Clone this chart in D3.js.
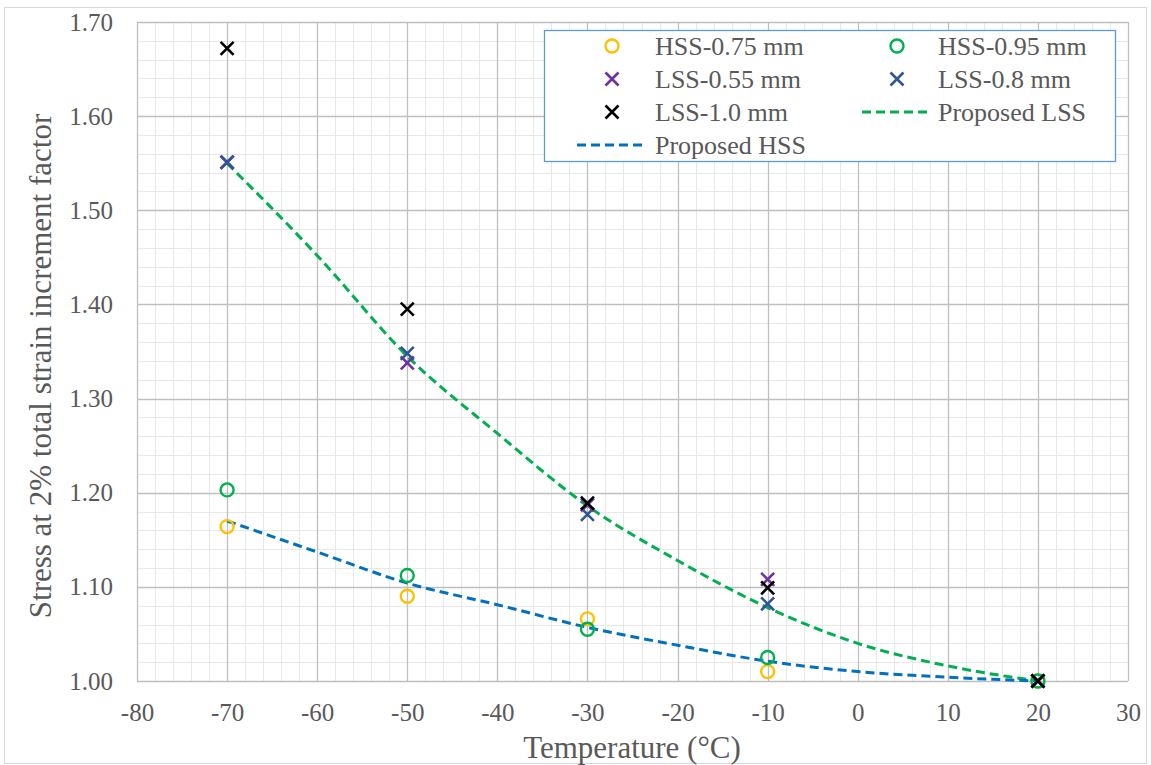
<!DOCTYPE html>
<html>
<head>
<meta charset="utf-8">
<script src="https://cdn.jsdelivr.net/npm/d3@7"></script>
<style>
  html, body { margin: 0; padding: 0; background: #fff; }
  svg { display: block; }
  text { font-family: "Liberation Serif", "Times New Roman", serif; fill: #595959; }
</style>
</head>
<body>
<svg id="chart" width="1151" height="765"></svg>
<script>
// ---------- data ----------
const temps = [-70, -50, -30, -10, 20];
const hss075 = [1.164, 1.090, 1.066, 1.010, 1.000];
const hss095 = [1.203, 1.112, 1.055, 1.025, 1.000];
const lss055 = [1.551, 1.338, 1.187, 1.108, 1.000];
const lss08  = [1.551, 1.348, 1.177, 1.082, 1.000];
const lss10  = [1.672, 1.395, 1.189, 1.099, 1.000];

const curveTemps = [-70, -60, -50, -40, -30, -20, -10, 0, 10, 20];
const proposedLSS = [1.550, 1.452, 1.345, 1.263, 1.186, 1.128, 1.078, 1.040, 1.016, 1.000];
const proposedHSS = [1.170, 1.137, 1.104, 1.081, 1.057, 1.038, 1.021, 1.010, 1.004, 1.000];

const xTicks = [-80, -70, -60, -50, -40, -30, -20, -10, 0, 10, 20, 30];
const yTicks = [1.00, 1.10, 1.20, 1.30, 1.40, 1.50, 1.60, 1.70];

const series = [
  {name: "HSS-0.75 mm", vals: hss075, color: "#FFC000", type: "circle"},
  {name: "HSS-0.95 mm", vals: hss095, color: "#00B050", type: "circle"},
  {name: "LSS-0.55 mm", vals: lss055, color: "#7030A0", type: "cross"},
  {name: "LSS-0.8 mm",  vals: lss08,  color: "#2F5597", type: "cross"},
  {name: "LSS-1.0 mm",  vals: lss10,  color: "#000000", type: "cross"}
];
const lines = [
  {name: "Proposed LSS", vals: proposedLSS, color: "#00B050"},
  {name: "Proposed HSS", vals: proposedHSS, color: "#0070C0"}
];

// ---------- layout ----------
const svg = d3.select("#chart");
const L = 137, R = 1128, T = 22, B = 681;
const x = d3.scaleLinear().domain([-80, 30]).range([L, R]);
const y = d3.scaleLinear().domain([1.0, 1.7]).range([B, T]);

// outer chart border
svg.append("rect").attr("x", 4.5).attr("y", 7.5).attr("width", 1142).attr("height", 756)
  .attr("fill", "#fff").attr("stroke", "#d9d9d9").attr("stroke-width", 1);

// minor grid
const g = svg.append("g");
const minorX = d3.range(-80, 30.001, 2);
const minorY = d3.range(0, 36).map(i => 1 + i * 0.02);
g.selectAll(".mx").data(minorX).join("line")
  .attr("x1", d => Math.round(x(d)) + 0.5).attr("x2", d => Math.round(x(d)) + 0.5)
  .attr("y1", T).attr("y2", B).attr("stroke", "#e8e8e8").attr("stroke-width", 1);
g.selectAll(".my").data(minorY).join("line")
  .attr("y1", d => Math.round(y(d)) + 0.5).attr("y2", d => Math.round(y(d)) + 0.5)
  .attr("x1", L).attr("x2", R).attr("stroke", "#e8e8e8").attr("stroke-width", 1);
// major grid
g.selectAll(".Mx").data(xTicks).join("line")
  .attr("x1", d => Math.round(x(d)) + 0.5).attr("x2", d => Math.round(x(d)) + 0.5)
  .attr("y1", T).attr("y2", B).attr("stroke", "#bfbfbf").attr("stroke-width", 1.3);
g.selectAll(".My").data(yTicks).join("line")
  .attr("y1", d => Math.round(y(d)) + 0.5).attr("y2", d => Math.round(y(d)) + 0.5)
  .attr("x1", L).attr("x2", R).attr("stroke", "#bfbfbf").attr("stroke-width", 1.3);

// axes
const xAxis = d3.axisBottom(x).tickValues(xTicks).tickSize(0).tickPadding(22).tickFormat(d3.format("d"));
const yAxis = d3.axisLeft(y).tickValues(yTicks).tickSize(0).tickPadding(24).tickFormat(d3.format(".2f"));
const gx = svg.append("g").attr("transform", `translate(0,${B})`).call(xAxis);
const gy = svg.append("g").attr("transform", `translate(${L},0)`).call(yAxis);
[gx, gy].forEach(a => {
  a.select(".domain").remove();
  a.selectAll("text").style("font-size", "25px").attr("fill", "#595959")
   .style("font-family", '"Liberation Serif", "Times New Roman", serif');
});
gx.selectAll("text").text(d => d3.format("d")(d).replace("−", "-"));

// axis titles
svg.append("text").attr("x", 632).attr("y", 758).attr("text-anchor", "middle")
  .style("font-size", "31px").text("Temperature (°C)");
svg.append("text").attr("transform", "translate(51,366) rotate(-90)").attr("text-anchor", "middle")
  .style("font-size", "31px").text("Stress at 2% total strain increment factor");

// fitted lines
const lineGen = d3.line().x(d => x(d[0])).y(d => y(d[1])).curve(d3.curveMonotoneX);
lines.forEach(l => {
  svg.append("path").datum(curveTemps.map((t, i) => [t, l.vals[i]]))
    .attr("d", lineGen).attr("fill", "none").attr("stroke", l.color)
    .attr("stroke-width", 3).attr("stroke-dasharray", "9,5");
});

// markers
function drawMarker(sel, type, color, cx, cy) {
  if (type === "circle") {
    sel.append("circle").attr("cx", cx).attr("cy", cy).attr("r", 6.5)
      .attr("fill", "none").attr("stroke", color).attr("stroke-width", 2.4);
  } else {
    const s = 6.5;
    sel.append("path").attr("d", `M${cx - s},${cy - s}L${cx + s},${cy + s}M${cx - s},${cy + s}L${cx + s},${cy - s}`)
      .attr("stroke", color).attr("stroke-width", 2.6).attr("fill", "none");
  }
}
const mg = svg.append("g");
series.forEach(s => {
  temps.forEach((t, i) => drawMarker(mg, s.type, s.color, x(t), y(s.vals[i])));
});

// legend
const lg = svg.append("g");
lg.append("rect").attr("x", 544.5).attr("y", 30.5).attr("width", 571).attr("height", 131)
  .attr("fill", "#fff").attr("stroke", "#5B9BD5").attr("stroke-width", 1.3);
const rows = [46, 79, 112, 145];
const legendItems = [
  {s: series[0], mx: 612, tx: 655, ry: rows[0]},
  {s: series[1], mx: 897, tx: 938, ry: rows[0]},
  {s: series[2], mx: 612, tx: 655, ry: rows[1]},
  {s: series[3], mx: 897, tx: 938, ry: rows[1]},
  {s: series[4], mx: 612, tx: 655, ry: rows[2]}
];
legendItems.forEach(it => {
  drawMarker(lg, it.s.type, it.s.color, it.mx, it.ry);
  lg.append("text").attr("x", it.tx).attr("y", it.ry + 9).style("font-size", "26px").text(it.s.name);
});
const lineItems = [
  {l: lines[0], x1: 862, x2: 931, tx: 938, ry: rows[2]},
  {l: lines[1], x1: 577, x2: 647, tx: 655, ry: rows[3]}
];
lineItems.forEach(it => {
  lg.append("line").attr("x1", it.x1).attr("x2", it.x2).attr("y1", it.ry).attr("y2", it.ry)
    .attr("stroke", it.l.color).attr("stroke-width", 3).attr("stroke-dasharray", "9,5");
  lg.append("text").attr("x", it.tx).attr("y", it.ry + 9).style("font-size", "26px").text(it.l.name);
});
</script>
</body>
</html>
